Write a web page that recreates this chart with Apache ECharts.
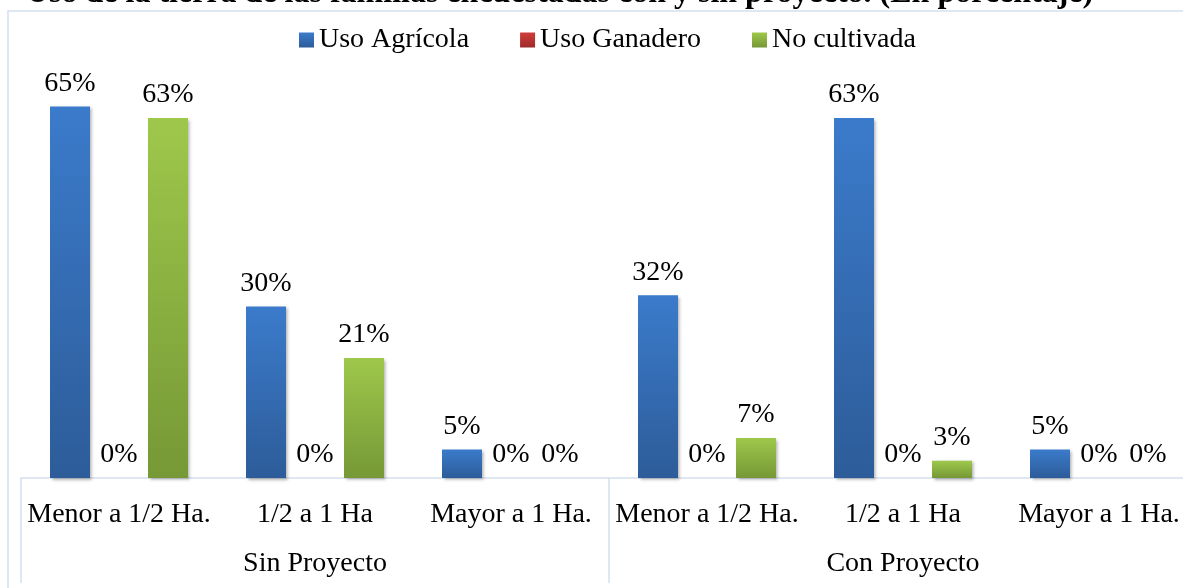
<!DOCTYPE html>
<html>
<head>
<meta charset="utf-8">
<script src="https://cdn.jsdelivr.net/npm/echarts@6/dist/echarts.min.js"></script>
<style>
  html, body { margin: 0; padding: 0; background: #fff; }
  #chart { width: 1183px; height: 588px; }
</style>
</head>
<body>
<div id="chart"></div>
<script>
// categories
const tamanos = ['Menor a 1/2 Ha.', '1/2 a 1 Ha', 'Mayor a 1 Ha.', 'Menor a 1/2 Ha.', '1/2 a 1 Ha', 'Mayor a 1 Ha.'];
const grupos = ['Sin Proyecto', 'Con Proyecto'];
// series values (%)
const usoAgricola = [65, 30, 5, 32, 63, 5];
const usoGanadero = [0, 0, 0, 0, 0, 0];
const noCultivada = [63, 21, 0, 7, 3, 0];

const font = "'Liberation Serif', 'Times New Roman', serif";
const lineColor = '#D5DFEE';

function grad(top, bottom) {
    return new echarts.graphic.LinearGradient(0, 0, 0, 1, [
        { offset: 0, color: top },
        { offset: 1, color: bottom },
    ]);
}

function barSeries(name, data, top, bottom) {
    return {
        name: name,
        type: 'bar',
        data: data,
        barWidth: 40,
        barGap: '22.5%',
        itemStyle: {
            color: grad(top, bottom),
            shadowBlur: 3,
            shadowOffsetX: 1.5,
            shadowOffsetY: 1.5,
            shadowColor: 'rgba(0,0,0,0.3)',
        },
        label: {
            show: true,
            position: 'top',
            distance: 9,
            formatter: '{c}%',
            color: '#000',
            fontFamily: font,
            fontSize: 28,
        },
    };
}

const chart = echarts.init(document.getElementById('chart'), null, { renderer: 'canvas' });
chart.setOption({
    animation: false,
    title: {
        text: 'Uso de la tierra de las familias encuestadas con y sin proyecto. (En porcentaje)',
        left: 26,
        top: -24,
        padding: 0,
        textStyle: { fontFamily: font, fontSize: 32, fontWeight: 'bold', color: '#000', lineHeight: 36 },
    },
    graphic: [
        {
            type: 'rect',
            shape: { x: 8, y: 11, width: 1400, height: 700 },
            style: { fill: 'none', stroke: lineColor, lineWidth: 1.5 },
            z: -1,
        },
    ],
    legend: {
        left: 299,
        top: 26,
        padding: 0,
        itemWidth: 15,
        itemHeight: 15,
        itemGap: 51,
        icon: 'rect',
        textStyle: { fontFamily: font, fontSize: 28, color: '#000' },
    },
    grid: { left: 21, right: -14, top: 78, bottom: 110, outerBoundsMode: 'none', containLabel: false },
    xAxis: [
        {
            type: 'category',
            data: tamanos,
            axisLine: { lineStyle: { color: lineColor, width: 1.5 } },
            axisTick: { show: false },
            axisLabel: { interval: 0, margin: 23, color: '#000', fontFamily: font, fontSize: 28 },
        },
        {
            type: 'category',
            position: 'bottom',
            data: grupos,
            axisLine: { show: false },
            axisTick: { show: true, length: 105, lineStyle: { color: lineColor, width: 1.5 } },
            axisLabel: { interval: 0, margin: 72, color: '#000', fontFamily: font, fontSize: 28 },
        },
    ],
    yAxis: { type: 'value', min: 0, max: 70, show: false, splitLine: { show: false } },
    series: [
        barSeries('Uso Agrícola', usoAgricola, '#3B7BCB', '#2D5C99'),
        barSeries('Uso Ganadero', usoGanadero, '#D23C3A', '#9C2B29'),
        barSeries('No cultivada', noCultivada, '#9EC84B', '#769836'),
    ],
});
</script>
</body>
</html>
